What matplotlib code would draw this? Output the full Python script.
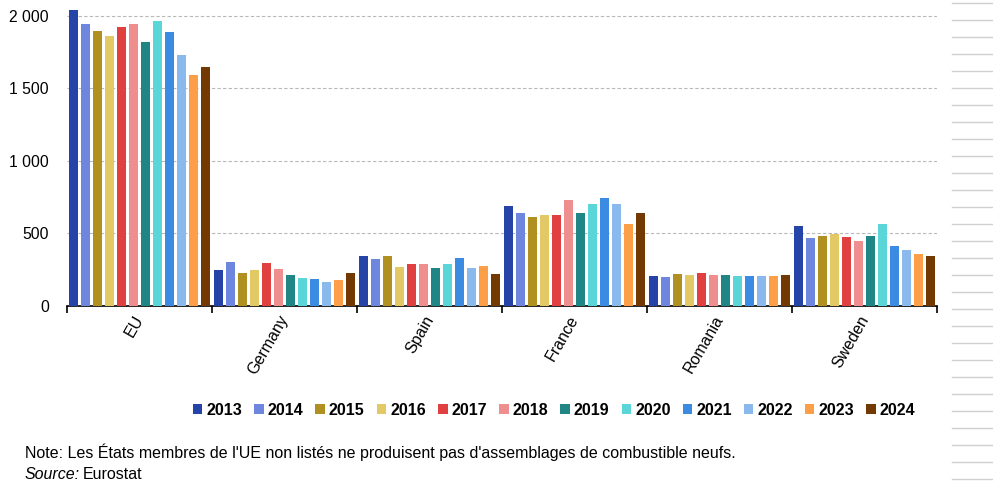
import numpy as np
import matplotlib.pyplot as plt
import matplotlib.transforms as mtransforms
from matplotlib.lines import Line2D
from matplotlib.patches import Patch
from matplotlib.ticker import FuncFormatter

plt.rcParams['font.family'] = ['Liberation Sans', 'DejaVu Sans']

countries = ['EU', 'Germany', 'Spain', 'France', 'Romania', 'Sweden']
years = ['2013', '2014', '2015', '2016', '2017', '2018',
         '2019', '2020', '2021', '2022', '2023', '2024']

# values per country, one per year 2013..2024
eu = [2041, 1945, 1897, 1862, 1924, 1945, 1821, 1966, 1890, 1731, 1593, 1648]
germany = [248, 303, 228, 248, 297, 255, 214, 193, 186, 166, 179, 228]
spain = [345, 324, 345, 269, 290, 290, 262, 290, 331, 262, 276, 221]
france = [690, 641, 614, 628, 628, 731, 641, 703, 745, 703, 566, 641]
romania = [207, 200, 221, 214, 228, 214, 214, 207, 207, 207, 207, 214]
sweden = [552, 469, 483, 499, 476, 448, 483, 566, 414, 386, 359, 345]

colors = ['#2644A8', '#6E86DE', '#B09020', '#E3C866', '#E04040', '#EE8E8E',
          '#1F8585', '#5BD6D8', '#3B8BE3', '#8AB9EE', '#FD9F48', '#723903']

data = np.array([eu, germany, spain, france, romania, sweden])

fig = plt.figure(figsize=(9.93, 4.86), dpi=100)
ax = fig.add_axes([67/993, 1 - 306/486, 870/993, 298/486])

n = len(years)
slot = 1.0 / n
x = np.arange(len(countries))
for j in range(n):
    ax.bar(x + (j - (n - 1) / 2) * slot, data[:, j], width=slot * 0.75,
           color=colors[j], zorder=3)

ax.set_xlim(-0.5, len(countries) - 0.5)
ax.set_ylim(0, 2055)
ax.set_yticks([0, 500, 1000, 1500, 2000])
ax.yaxis.set_major_formatter(FuncFormatter(lambda v, p: f'{int(v):,}'.replace(',', ' ')))
ax.grid(axis='y', linestyle=(0, (3, 2)), color='#b8b8b8', linewidth=0.8, zorder=0)
for s in ['left', 'top', 'right']:
    ax.spines[s].set_visible(False)
ax.spines['bottom'].set_linewidth(1.2)
ax.tick_params(axis='y', length=0, pad=13, labelsize=11.3)

ax.set_xticks(x)
ax.set_xticklabels(countries, rotation=60, ha='right', va='top', fontsize=11.5)
ax.tick_params(axis='x', which='major', length=0, pad=5)
shift = mtransforms.ScaledTranslation(7/100, 0, fig.dpi_scale_trans)
for lab in ax.get_xticklabels():
    lab.set_transform(lab.get_transform() + shift)
ax.set_xticks(np.arange(-0.5, len(countries)), minor=True)
ax.tick_params(axis='x', which='minor', length=5, width=1.2, direction='out')

handles = [Patch(facecolor=c, label=y) for c, y in zip(colors, years)]
fig.legend(handles=handles, loc='center', bbox_to_anchor=(554/993, 1 - 410/486),
           ncol=n, frameon=False, handlelength=0.6, handleheight=0.6,
           handletextpad=0.25, columnspacing=0.75,
           prop={'weight': 'bold', 'size': 11.5})

fig.text(25/993, 1 - 452/486, "Note: Les États membres de l'UE non listés ne produisent pas d'assemblages de combustible neufs.",
         fontsize=11.5, va='center', ha='left')
fig.text(25/993, 1 - 474/486, 'Source:', fontsize=11.5, style='italic', va='center', ha='left')
fig.text(83/993, 1 - 474/486, 'Eurostat', fontsize=11.5, va='center', ha='left')

# decorative lines on the right edge
for yy in np.arange(3.3, 481, 17):
    fig.add_artist(Line2D([952/993, 1], [1 - yy/486] * 2, color='#d0d0d0', linewidth=1))

fig.savefig('out.png', dpi=100)
